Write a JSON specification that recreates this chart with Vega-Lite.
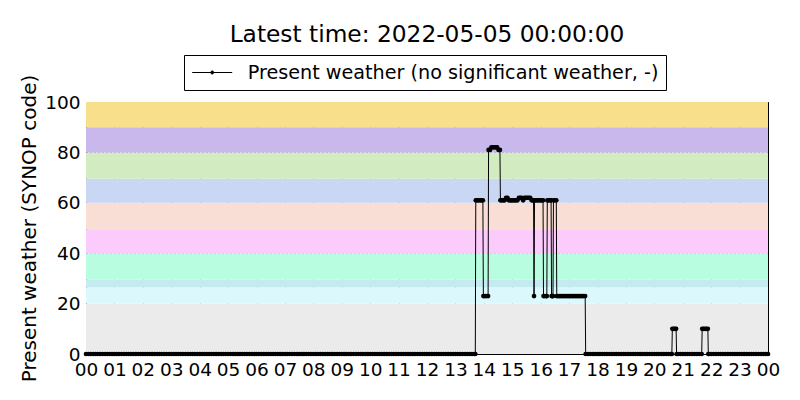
{
  "$schema": "https://vega.github.io/schema/vega-lite/v6.json",
  "width": 682,
  "height": 252,
  "autosize": {"type": "none"},
  "padding": {"left": 86, "top": 102, "right": 32, "bottom": 46},
  "background": "white",
  "title": {
    "text": "Latest time: 2022-05-05 00:00:00",
    "fontSize": 23.3,
    "font": "DejaVu Sans",
    "fontWeight": "normal",
    "color": "black",
    "anchor": "middle",
    "offset": 7
  },
  "config": {
    "font": "DejaVu Sans",
    "view": {"stroke": "black", "strokeWidth": 1},
    "axis": {
      "labelFont": "DejaVu Sans",
      "labelFontSize": 18.5,
      "labelColor": "black",
      "labelOverlap": false,
      "labelFlush": false,
      "titleFont": "DejaVu Sans",
      "titleFontSize": 20,
      "titleFontWeight": "normal",
      "titleColor": "black",
      "domain": false,
      "ticks": false,
      "grid": true,
      "gridColor": "black",
      "gridOpacity": 0.9,
      "gridWidth": 1,
      "gridDash": [1, 3],
      "zindex": 1
    },
    "axisX": {"labelOverlap": false, "labelSeparation": 0},
    "axisQuantitative": {"labelOverlap": false}
  },
  "datasets": {
    "bands": [
      {"lo": 0, "hi": 20, "band": "00-19"},
      {"lo": 20, "hi": 26.5, "band": "20-26"},
      {"lo": 26.5, "hi": 29.5, "band": "27-29"},
      {"lo": 29.5, "hi": 40, "band": "30-39"},
      {"lo": 40, "hi": 49.5, "band": "40-49"},
      {"lo": 49.5, "hi": 60, "band": "50-59"},
      {"lo": 60, "hi": 69.5, "band": "60-69"},
      {"lo": 69.5, "hi": 80, "band": "70-79"},
      {"lo": 80, "hi": 90, "band": "80-89"},
      {"lo": 90, "hi": 100, "band": "90-99"}
    ],
    "pw": [
      {"m":0,"v":0},{"m":5,"v":0},{"m":10,"v":0},{"m":15,"v":0},{"m":20,"v":0},{"m":25,"v":0},{"m":30,"v":0},{"m":35,"v":0},{"m":40,"v":0},{"m":45,"v":0},{"m":50,"v":0},{"m":55,"v":0},
      {"m":60,"v":0},{"m":65,"v":0},{"m":70,"v":0},{"m":75,"v":0},{"m":80,"v":0},{"m":85,"v":0},{"m":90,"v":0},{"m":95,"v":0},{"m":100,"v":0},{"m":105,"v":0},{"m":110,"v":0},{"m":115,"v":0},
      {"m":120,"v":0},{"m":125,"v":0},{"m":130,"v":0},{"m":135,"v":0},{"m":140,"v":0},{"m":145,"v":0},{"m":150,"v":0},{"m":155,"v":0},{"m":160,"v":0},{"m":165,"v":0},{"m":170,"v":0},{"m":175,"v":0},
      {"m":180,"v":0},{"m":185,"v":0},{"m":190,"v":0},{"m":195,"v":0},{"m":200,"v":0},{"m":205,"v":0},{"m":210,"v":0},{"m":215,"v":0},{"m":220,"v":0},{"m":225,"v":0},{"m":230,"v":0},{"m":235,"v":0},
      {"m":240,"v":0},{"m":245,"v":0},{"m":250,"v":0},{"m":255,"v":0},{"m":260,"v":0},{"m":265,"v":0},{"m":270,"v":0},{"m":275,"v":0},{"m":280,"v":0},{"m":285,"v":0},{"m":290,"v":0},{"m":295,"v":0},
      {"m":300,"v":0},{"m":305,"v":0},{"m":310,"v":0},{"m":315,"v":0},{"m":320,"v":0},{"m":325,"v":0},{"m":330,"v":0},{"m":335,"v":0},{"m":340,"v":0},{"m":345,"v":0},{"m":350,"v":0},{"m":355,"v":0},
      {"m":360,"v":0},{"m":365,"v":0},{"m":370,"v":0},{"m":375,"v":0},{"m":380,"v":0},{"m":385,"v":0},{"m":390,"v":0},{"m":395,"v":0},{"m":400,"v":0},{"m":405,"v":0},{"m":410,"v":0},{"m":415,"v":0},
      {"m":420,"v":0},{"m":425,"v":0},{"m":430,"v":0},{"m":435,"v":0},{"m":440,"v":0},{"m":445,"v":0},{"m":450,"v":0},{"m":455,"v":0},{"m":460,"v":0},{"m":465,"v":0},{"m":470,"v":0},{"m":475,"v":0},
      {"m":480,"v":0},{"m":485,"v":0},{"m":490,"v":0},{"m":495,"v":0},{"m":500,"v":0},{"m":505,"v":0},{"m":510,"v":0},{"m":515,"v":0},{"m":520,"v":0},{"m":525,"v":0},{"m":530,"v":0},{"m":535,"v":0},
      {"m":540,"v":0},{"m":545,"v":0},{"m":550,"v":0},{"m":555,"v":0},{"m":560,"v":0},{"m":565,"v":0},{"m":570,"v":0},{"m":575,"v":0},{"m":580,"v":0},{"m":585,"v":0},{"m":590,"v":0},{"m":595,"v":0},
      {"m":600,"v":0},{"m":605,"v":0},{"m":610,"v":0},{"m":615,"v":0},{"m":620,"v":0},{"m":625,"v":0},{"m":630,"v":0},{"m":635,"v":0},{"m":640,"v":0},{"m":645,"v":0},{"m":650,"v":0},{"m":655,"v":0},
      {"m":660,"v":0},{"m":665,"v":0},{"m":670,"v":0},{"m":675,"v":0},{"m":680,"v":0},{"m":685,"v":0},{"m":690,"v":0},{"m":695,"v":0},{"m":700,"v":0},{"m":705,"v":0},{"m":710,"v":0},{"m":715,"v":0},
      {"m":720,"v":0},{"m":725,"v":0},{"m":730,"v":0},{"m":735,"v":0},{"m":740,"v":0},{"m":745,"v":0},{"m":750,"v":0},{"m":755,"v":0},{"m":760,"v":0},{"m":765,"v":0},{"m":770,"v":0},{"m":775,"v":0},
      {"m":780,"v":0},{"m":785,"v":0},{"m":790,"v":0},{"m":795,"v":0},{"m":800,"v":0},{"m":805,"v":0},{"m":810,"v":0},{"m":815,"v":0},{"m":820,"v":0},{"m":822,"v":0},
      {"m":823,"v":61},{"m":826,"v":61},{"m":829,"v":61},{"m":832,"v":61},{"m":835,"v":61},{"m":838,"v":61},
      {"m":839,"v":23},{"m":842,"v":23},{"m":845,"v":23},{"m":849,"v":23},
      {"m":850,"v":81},{"m":853,"v":81},{"m":856,"v":82},{"m":859,"v":82},{"m":862,"v":82},{"m":865,"v":82},{"m":868,"v":82},{"m":871,"v":81},{"m":874,"v":81},
      {"m":875,"v":61},{"m":878,"v":61},{"m":881,"v":61},{"m":884,"v":61},{"m":887,"v":62},{"m":890,"v":62},{"m":893,"v":61},{"m":896,"v":61},{"m":899,"v":61},{"m":902,"v":61},{"m":905,"v":61},{"m":908,"v":61},{"m":911,"v":61},
      {"m":914,"v":62},{"m":917,"v":62},{"m":920,"v":62},{"m":923,"v":61},{"m":926,"v":62},{"m":929,"v":62},{"m":932,"v":62},{"m":935,"v":62},{"m":938,"v":62},{"m":941,"v":61},{"m":944,"v":61},{"m":945,"v":61},
      {"m":946,"v":23},
      {"m":947,"v":61},{"m":950,"v":61},{"m":953,"v":61},{"m":956,"v":61},{"m":959,"v":61},{"m":962,"v":61},{"m":965,"v":61},
      {"m":966,"v":23},{"m":969,"v":23},{"m":972,"v":23},{"m":973,"v":23},
      {"m":974,"v":61},{"m":977,"v":61},{"m":980,"v":61},{"m":982,"v":61},
      {"m":983,"v":23},{"m":985,"v":23},{"m":986,"v":23},
      {"m":987,"v":61},{"m":990,"v":61},{"m":993,"v":61},
      {"m":994,"v":23},{"m":997,"v":23},{"m":1000,"v":23},{"m":1003,"v":23},{"m":1006,"v":23},{"m":1009,"v":23},{"m":1012,"v":23},{"m":1015,"v":23},{"m":1018,"v":23},{"m":1021,"v":23},{"m":1024,"v":23},{"m":1027,"v":23},{"m":1030,"v":23},{"m":1033,"v":23},{"m":1036,"v":23},{"m":1039,"v":23},{"m":1042,"v":23},{"m":1045,"v":23},{"m":1048,"v":23},{"m":1051,"v":23},{"m":1054,"v":23},
      {"m":1055,"v":0},{"m":1060,"v":0},{"m":1065,"v":0},{"m":1070,"v":0},{"m":1075,"v":0},{"m":1080,"v":0},{"m":1085,"v":0},{"m":1090,"v":0},{"m":1095,"v":0},{"m":1100,"v":0},{"m":1105,"v":0},{"m":1110,"v":0},{"m":1115,"v":0},
      {"m":1120,"v":0},{"m":1125,"v":0},{"m":1130,"v":0},{"m":1135,"v":0},{"m":1140,"v":0},{"m":1145,"v":0},{"m":1150,"v":0},{"m":1155,"v":0},{"m":1160,"v":0},{"m":1165,"v":0},{"m":1170,"v":0},{"m":1175,"v":0},
      {"m":1180,"v":0},{"m":1185,"v":0},{"m":1190,"v":0},{"m":1195,"v":0},{"m":1200,"v":0},{"m":1205,"v":0},{"m":1210,"v":0},{"m":1215,"v":0},{"m":1220,"v":0},{"m":1225,"v":0},{"m":1230,"v":0},{"m":1235,"v":0},{"m":1237,"v":0},
      {"m":1238,"v":10},{"m":1241,"v":10},{"m":1244,"v":10},{"m":1246,"v":10},
      {"m":1247,"v":0},{"m":1250,"v":0},{"m":1255,"v":0},{"m":1260,"v":0},{"m":1265,"v":0},{"m":1270,"v":0},{"m":1275,"v":0},{"m":1280,"v":0},{"m":1285,"v":0},{"m":1290,"v":0},{"m":1295,"v":0},{"m":1300,"v":0},
      {"m":1301,"v":10},{"m":1304,"v":10},{"m":1307,"v":10},{"m":1310,"v":10},{"m":1313,"v":10},
      {"m":1314,"v":0},{"m":1315,"v":0},{"m":1320,"v":0},{"m":1325,"v":0},{"m":1330,"v":0},{"m":1335,"v":0},{"m":1340,"v":0},{"m":1345,"v":0},{"m":1350,"v":0},{"m":1355,"v":0},{"m":1360,"v":0},{"m":1365,"v":0},{"m":1370,"v":0},{"m":1375,"v":0},
      {"m":1380,"v":0},{"m":1385,"v":0},{"m":1390,"v":0},{"m":1395,"v":0},{"m":1400,"v":0},{"m":1405,"v":0},{"m":1410,"v":0},{"m":1415,"v":0},{"m":1420,"v":0},{"m":1425,"v":0},{"m":1430,"v":0},{"m":1435,"v":0},{"m":1440,"v":0}
    ]
  },
  "layer": [
    {
      "data": {"name": "bands"},
      "mark": {"type": "rect"},
      "encoding": {
        "x": {
          "datum": 0,
          "type": "quantitative",
          "title": null,
          "axis": {
            "values": [0, 60, 120, 180, 240, 300, 360, 420, 480, 540, 600, 660, 720, 780, 840, 900, 960, 1020, 1080, 1140, 1200, 1260, 1320, 1380, 1440],
            "labelExpr": "(datum.value/60)%24 < 10 ? '0' + (datum.value/60)%24 : '' + (datum.value/60)%24",
            "labelFlush": false,
            "labelOverlap": false,
            "labelSeparation": 0,
            "labelPadding": 6
          }
        },
        "x2": {"datum": 1440},
        "y": {"field": "lo", "type": "quantitative", "title": "Present weather (SYNOP code)"},
        "y2": {"field": "hi"},
        "fill": {
          "field": "band",
          "type": "nominal",
          "scale": {
            "domain": ["00-19", "20-26", "27-29", "30-39", "40-49", "50-59", "60-69", "70-79", "80-89", "90-99"],
            "range": ["#ebebeb", "#dbf9fc", "#c5ebf1", "#b9fde1", "#fbcbfb", "#f9ded5", "#c9d6f4", "#d3ebc1", "#c9b8ec", "#f8df8b"]
          },
          "legend": null
        }
      }
    },
    {
      "data": {"name": "pw"},
      "mark": {"type": "line", "clip": true, "strokeWidth": 1},
      "encoding": {
        "x": {
          "field": "m",
          "type": "quantitative",
          "title": null,
          "scale": {"domain": [0, 1440], "nice": false, "zero": false},
          "axis": {
            "values": [0, 60, 120, 180, 240, 300, 360, 420, 480, 540, 600, 660, 720, 780, 840, 900, 960, 1020, 1080, 1140, 1200, 1260, 1320, 1380, 1440],
            "labelExpr": "(datum.value/60)%24 < 10 ? '0' + (datum.value/60)%24 : '' + (datum.value/60)%24",
            "labelFlush": false,
            "labelOverlap": false,
            "labelSeparation": 0,
            "labelPadding": 6
          }
        },
        "y": {
          "field": "v",
          "type": "quantitative",
          "title": "Present weather (SYNOP code)",
          "scale": {"domain": [0, 100], "nice": false},
          "axis": {
            "values": [0, 20, 40, 60, 80, 100],
            "labelFlush": false,
            "labelOverlap": false,
            "labelPadding": 6,
            "titlePadding": 5
          }
        },
        "color": {
          "datum": "Present weather (no significant weather, -)",
          "type": "nominal",
          "scale": {"range": ["black"]},
          "legend": {
            "orient": "none",
            "legendX": 98,
            "legendY": -47,
            "title": null,
            "symbolType": "M-2,0H2M-0.15,0A0.15,0.15,0,1,0,0.15,0A0.15,0.15,0,1,0,-0.15,0Z",
            "symbolSize": 400,
            "symbolStrokeWidth": 1,
            "symbolStrokeColor": "black",
            "symbolFillColor": "black",
            "symbolOffset": 10.7,
            "labelFont": "DejaVu Sans",
            "labelFontSize": 19.2,
            "labelColor": "black",
            "labelOffset": 25,
            "labelLimit": 0,
            "padding": 7,
            "strokeColor": "black",
            "fillColor": "white",
            "cornerRadius": 0
          }
        }
      }
    },
    {
      "data": {"name": "pw"},
      "mark": {"type": "point", "filled": true, "clip": false, "size": 22, "opacity": 1},
      "encoding": {
        "x": {
          "field": "m",
          "type": "quantitative",
          "title": null,
          "axis": {
            "values": [0, 60, 120, 180, 240, 300, 360, 420, 480, 540, 600, 660, 720, 780, 840, 900, 960, 1020, 1080, 1140, 1200, 1260, 1320, 1380, 1440],
            "labelExpr": "(datum.value/60)%24 < 10 ? '0' + (datum.value/60)%24 : '' + (datum.value/60)%24",
            "labelFlush": false,
            "labelOverlap": false,
            "labelSeparation": 0,
            "labelPadding": 6
          }
        },
        "y": {"field": "v", "type": "quantitative", "title": "Present weather (SYNOP code)"},
        "color": {"datum": "Present weather (no significant weather, -)", "type": "nominal"}
      }
    }
  ]
}
